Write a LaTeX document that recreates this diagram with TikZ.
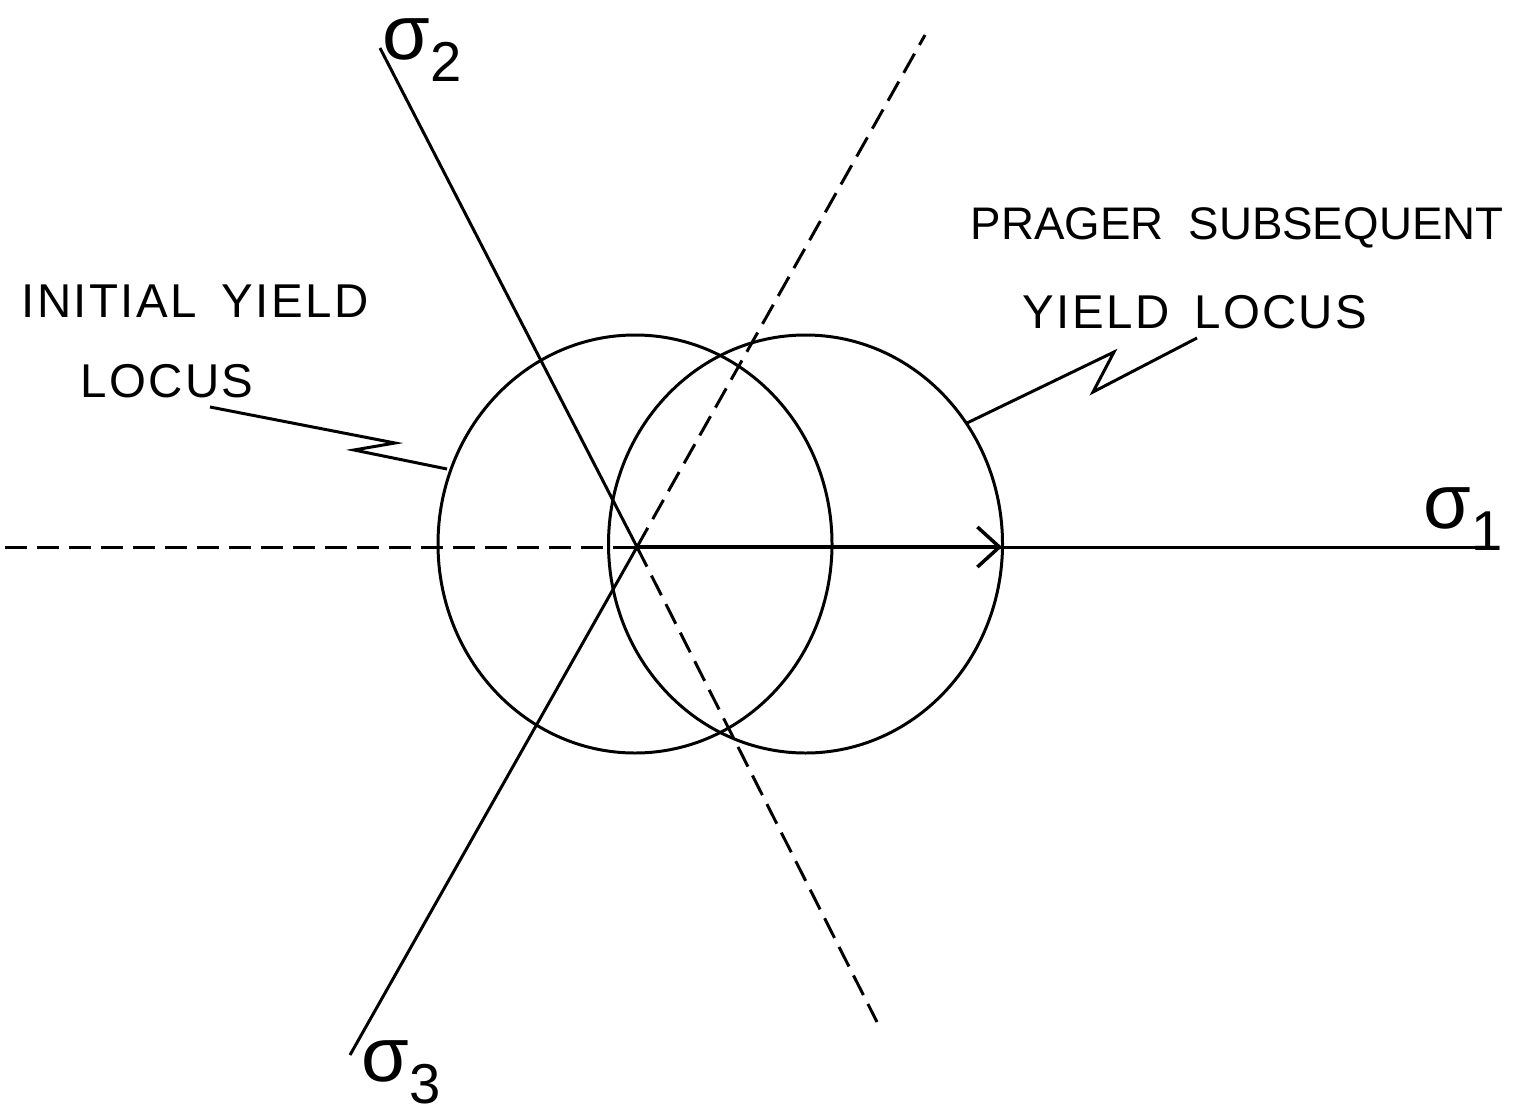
\documentclass[tikz,border=0pt]{standalone}
\usepackage{fontspec}
\setmainfont{Liberation Sans}
\newfontfamily\locusfont[LetterSpace=5]{Liberation Sans}
\newfontfamily\tightfont{Liberation Sans}
\usepackage{tikz}
\usetikzlibrary{arrows.meta,positioning,calc}

\newcommand{\stresslabel}[1]{{\fontsize{22}{22}\selectfont σ}\raisebox{-1.2ex}{\fontsize{16}{16}\selectfont #1}}
\newcommand{\wgap}{\hspace{0.25cm}}

\begin{document}
\begin{tikzpicture}[
    axis/.style={line width=0.85pt},
    hidden/.style={line width=0.85pt, dash pattern=on 2.2mm off 1mm},
    locus/.style={line width=0.85pt},
    leader/.style={line width=0.85pt},
    txt/.style={font=\locusfont\fontsize{13.5}{13.5}\selectfont, inner sep=0pt},
    tighttxt/.style={font=\tightfont\fontsize{13}{13}\selectfont, inner sep=0pt},
    greek/.style={inner sep=0pt},
    vec/.style={-{Straight Barb[length=2.2mm,width=4mm]}, line width=1pt}
]
\useasboundingbox (0,0) rectangle (15.22,11.19);

% origin and axis ends
\coordinate (O) at (6.37,5.72);
\coordinate (s1neg) at (0.05,5.72);
\coordinate (s1pos) at (14.97,5.72);
\coordinate (s2pos) at (3.80,10.71);
\coordinate (s2neg) at (8.77,0.97);
\coordinate (s3pos) at (3.50,0.64);
\coordinate (s3neg) at (9.25,10.84);
\coordinate (tip) at (10.02,5.72);

% axes
\draw[hidden] (s1neg) -- (O);
\draw[axis] (O) -- (s1pos);
\draw[axis] (s2pos) -- (O);
\draw[hidden] (O) -- (s2neg);
\draw[axis] (O) -- (s3pos);
\draw[hidden] (O) -- (s3neg);

% yield loci
\draw[locus] (6.35,5.75) ellipse [x radius=1.97, y radius=2.09];
\draw[locus] (8.055,5.75) ellipse [x radius=1.97, y radius=2.09];

% translation of the centre
\draw[vec] (O) -- (tip);

% axis labels
\node[greek] (l1) at (14.63,6.00) {\stresslabel{1}};
\node[greek] (l2) at (4.22,10.69) {\stresslabel{2}};
\node[greek] (l3) at (4.01,0.47) {\stresslabel{3}};

% texts
\node[txt] (ini1) at (1.95,8.18) {INITIAL\wgap YIELD};
\node[txt] (ini2) at (1.67,7.38) {LOCUS};
\node[tighttxt] (pra1) at (12.37,8.91) {PRAGER\hspace{0.25cm}SUBSEQUENT};
\node[txt] (pra2) at (11.95,8.07) {YIELD\wgap LOCUS};

% leaders
\coordinate (a1) at (2.10,7.12);
\coordinate (a2) at (4.47,6.50);
\draw[leader] (a1) -- (3.95,6.76) -- (3.54,6.69) -- (a2);
\coordinate (b1) at (9.67,6.96);
\coordinate (b2) at (11.97,7.81);
\draw[leader] (b1) -- (11.14,7.67) -- (10.93,7.27) -- (b2);
\end{tikzpicture}
\end{document}
